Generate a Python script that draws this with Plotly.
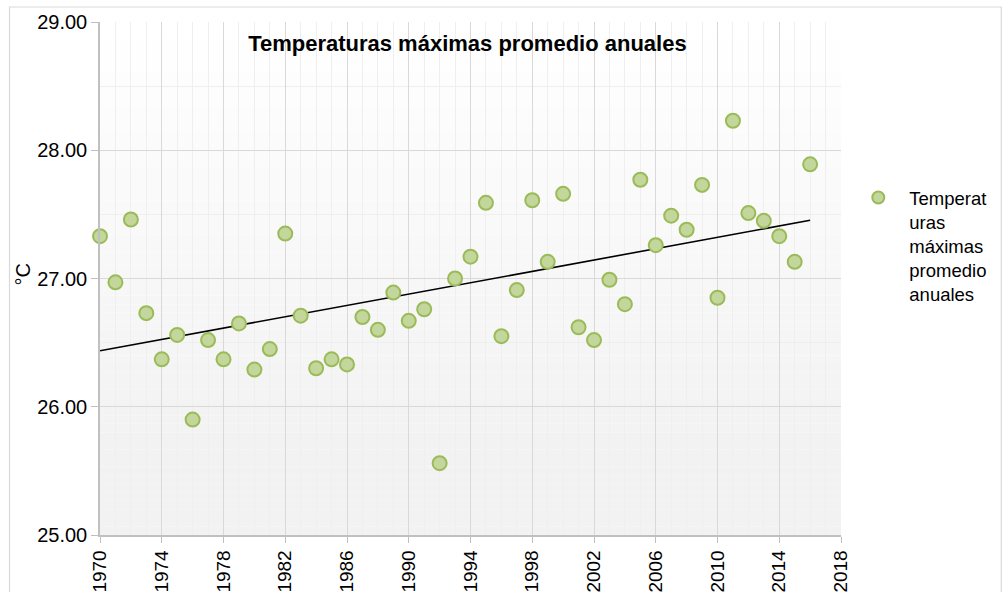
import numpy as np
import plotly.graph_objects as go

years = list(range(1970, 2017))
temps = [27.33, 26.97, 27.46, 26.73, 26.37, 26.56, 25.90, 26.52, 26.37, 26.65,
         26.29, 26.45, 27.35, 26.71, 26.30, 26.37, 26.33, 26.70, 26.60, 26.89,
         26.67, 26.76, 25.56, 27.00, 27.17, 27.59, 26.55, 26.91, 27.61, 27.13,
         27.66, 26.62, 26.52, 26.99, 26.80, 27.77, 27.26, 27.49, 27.38, 27.73,
         26.85, 28.23, 27.51, 27.45, 27.33, 27.13, 27.89]
x_ticks = list(range(1970, 2019, 4))
y_ticks = [25, 26, 27, 28, 29]
title_text = "Temperaturas máximas promedio anuales"
legend_name = "Temperat<br>uras<br>máximas<br>promedio<br>anuales"
y_title = "°C"

slope, intercept = np.polyfit(years, temps, 1)
trend_x = [years[0], years[-1]]
trend_y = [intercept + slope * v for v in trend_x]

FONT = "Liberation Sans, Arial, sans-serif"

fig = go.Figure()
fig.add_trace(go.Scatter(
    x=trend_x, y=trend_y, mode="lines",
    line=dict(color="black", width=1.6), showlegend=False, hoverinfo="skip",
    cliponaxis=False))
fig.add_trace(go.Scatter(
    x=years, y=temps, mode="markers", name=legend_name,
    marker=dict(size=14, color="#c3d69b", line=dict(color="#9bbb59", width=2)),
    cliponaxis=False))

# background gradient bands (white at top -> light gray at bottom)
shapes = []
n = 60
y_lo, y_hi = 25.0, 29.0
for i in range(n):
    a = y_lo + (y_hi - y_lo) * i / n
    b = y_lo + (y_hi - y_lo) * (i + 1) / n
    mid = (a + b) / 2
    t = min(max((mid - 25.7) / (29.0 - 25.7), 0), 1)
    c = int(round(242 + (255 - 242) * t))
    shapes.append(dict(type="rect", xref="x", yref="y", x0=1970, x1=2018,
                       y0=a, y1=b, fillcolor=f"rgb({c},{c},{c})",
                       line=dict(width=0), layer="below"))
# outer chart border
L, R, T, B = 99.5, 840.7, 22, 535
W, H = R - L, B - T
shapes.append(dict(type="rect", xref="paper", yref="paper",
                   x0=(9 - L) / W, x1=(1001 - L) / W,
                   y0=(B - 620) / H, y1=(B - 7) / H,
                   line=dict(color="#d9d9d9", width=1.2), fillcolor="rgba(0,0,0,0)",
                   layer="below"))

fig.update_layout(
    width=1006, height=592,
    margin=dict(l=L, r=1006 - R, t=T, b=592 - B, autoexpand=False),
    paper_bgcolor="white", plot_bgcolor="rgba(0,0,0,0)",
    font=dict(family=FONT, color="#000000"),
    shapes=shapes,
    title=dict(text=title_text, x=(467 - L) / W, xref="paper", xanchor="center",
               y=1 - 43 / 592, yref="container", yanchor="middle",
               font=dict(family=FONT, size=22, weight="bold", color="#000000")),
    showlegend=True,
    legend=dict(x=(847 - L) / W, xanchor="left", y=(B - 179) / H, yanchor="top",
                font=dict(family=FONT, size=18.5, color="#000000"),
                valign="top", bgcolor="rgba(0,0,0,0)", itemsizing="constant",
                itemwidth=52),
    annotations=[dict(text=y_title, xref="paper", yref="paper", x=0, y=(B - 275) / H,
                      xshift=22 - L, xanchor="center", yanchor="middle",
                      textangle=-90, showarrow=False,
                      font=dict(family=FONT, size=20, color="#000000"))],
)
fig.update_xaxes(
    range=[1970, 2018], tickvals=x_ticks, ticktext=[str(v) for v in x_ticks],
    tickangle=-90, tickfont=dict(size=19, family=FONT), automargin=False,
    ticks="outside", ticklen=6, tickcolor="#c0c0c0",
    showgrid=True, gridcolor="#d9d9d9", gridwidth=1.3,
    showline=True, linecolor="#c0c0c0", linewidth=1.5, zeroline=False,
    minor=dict(dtick=1, tick0=1970, showgrid=True, gridcolor="#efefef", gridwidth=1.3, ticks=""),
)
fig.update_yaxes(
    range=[25, 29], tickvals=y_ticks, ticktext=[f"{v:.2f}" for v in y_ticks],
    tickfont=dict(size=20, family=FONT), automargin=False,
    ticks="outside", ticklen=7, tickcolor="#c0c0c0",
    showgrid=True, gridcolor="#d9d9d9", gridwidth=1.3,
    showline=True, linecolor="#c0c0c0", linewidth=1.5, zeroline=False,
    minor=dict(dtick=0.5, tick0=25, showgrid=True, gridcolor="#efefef", gridwidth=1.3, ticks=""),
)

fig.write_html(
    "out.html",
    config={"displayModeBar": False},
    post_script="document.body.style.margin='0';document.body.style.overflow='hidden';",
)
